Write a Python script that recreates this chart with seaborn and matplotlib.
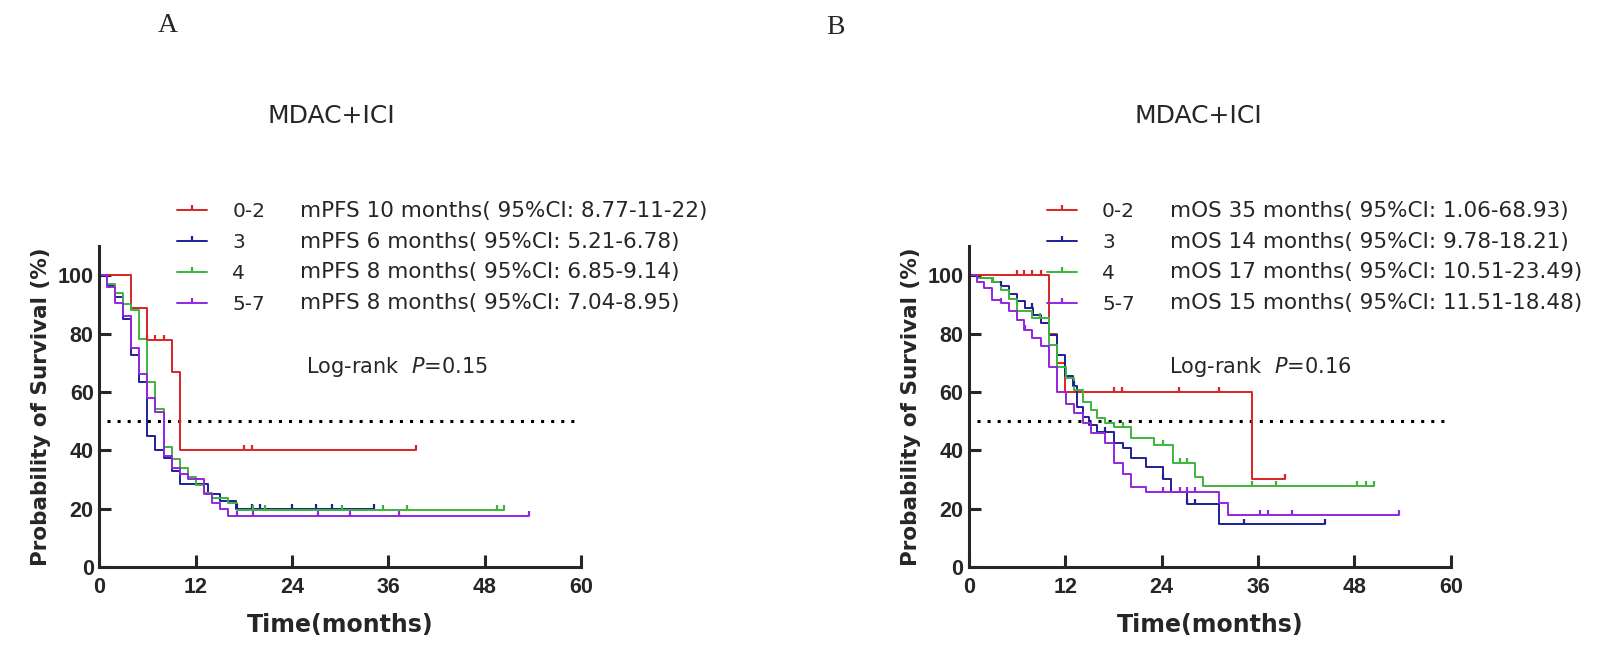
import numpy as np
import pandas as pd
import matplotlib
matplotlib.use('Agg')
import matplotlib.pyplot as plt
import seaborn as sns
from matplotlib.lines import Line2D
from matplotlib.path import Path

sns.set_style('ticks')
plt.rcParams['font.family'] = ['DejaVu Sans']

groups = ['0-2', '3', '4', '5-7']
colors = ['#D92424', '#1F1F96', '#3CB43C', '#9326DE']

# panel A: progression-free survival, step curves (time in months, survival in %)
pfs_t = {
    '0-2': [0, 4.0, 6.0, 9.0, 10.0, 39.4],
    '3': [0, 0.9, 2.0, 2.9, 4.0, 5.0, 6.0, 7.0, 8.0, 9.0, 10.0, 13.5, 15.0, 17.0, 34.2],
    '4': [0, 0.9, 2.0, 3.0, 4.0, 5.0, 6.0, 7.0, 8.0, 9.0, 10.0, 11.0, 12.0, 13.0, 14.0, 16.0, 17.1, 50.4],
    '5-7': [0, 0.9, 2.0, 3.0, 4.0, 5.0, 6.0, 7.0, 8.0, 9.0, 10.0, 11.0, 13.0, 14.0, 15.0, 16.0, 53.5],
}
pfs_s = {
    '0-2': [100, 88.9, 77.8, 66.7, 40, 40],
    '3': [100, 96.2, 92.5, 85, 72.5, 63.5, 45, 40, 37.5, 33, 28.5, 25, 22.5, 20, 20],
    '4': [100, 97, 94, 90, 88, 78, 63.5, 54, 41, 37, 34, 31, 28, 25.5, 23.5, 22, 19.6, 19.6],
    '5-7': [100, 96, 90.5, 86, 75, 66, 58, 53, 38, 34, 32, 30, 25, 22, 20, 17.6, 17.6],
}
pfs_cens = {
    '0-2': [6.0, 7.0, 8.0, 18.0, 19.0, 39.4],
    '3': [17.1, 19.0, 20.0, 24.0, 27.0, 29.0, 34.2],
    '4': [19.2, 20.6, 30.2, 35.3, 38.3, 49.5, 50.4],
    '5-7': [17.1, 19.1, 27.2, 31.2, 37.3, 53.5],
}
pfs_text = ['mPFS 10 months( 95%CI: 8.77-11-22)',
            'mPFS 6 months( 95%CI: 5.21-6.78)',
            'mPFS 8 months( 95%CI: 6.85-9.14)',
            'mPFS 8 months( 95%CI: 7.04-8.95)']
pfs_p = '0.15'

# panel B: overall survival
os_t = {
    '0-2': [0, 10.0, 11.0, 12.0, 35.2, 39.3],
    '3': [0, 1.0, 2.9, 4.0, 5.0, 6.0, 7.0, 8.0, 9.0, 10.0, 11.0, 12.0, 13.0, 13.5, 14.2, 15.0, 16.0,
          18.0, 19.2, 20.2, 22.0, 24.2, 25.1, 27.1, 31.2, 44.3],
    '4': [0, 1.0, 2.9, 4.0, 5.0, 6.0, 7.9, 10.0, 11.0, 12.1, 13.1, 14.2, 15.2, 16.0, 17.0, 18.1, 20.2,
          23.1, 25.4, 28.2, 29.2, 50.4],
    '5-7': [0, 1.0, 1.9, 2.9, 4.0, 5.0, 6.0, 6.9, 7.9, 9.0, 10.0, 11.0, 12.1, 13.1, 14.2, 15.2, 17.0,
            18.1, 19.2, 20.2, 22.0, 31.2, 32.2, 53.5],
}
os_s = {
    '0-2': [100, 80, 70, 60, 30, 30],
    '3': [100, 99, 97.7, 96.2, 93.4, 91, 88.8, 86.5, 83.6, 79.6, 72.7, 65.3, 62, 55, 51.5, 48.7, 46.4,
          42.4, 40.7, 37.2, 34.1, 30, 25.8, 21.5, 14.7, 14.7],
    '4': [100, 99, 97.5, 95, 92, 87.6, 85.3, 76.2, 68.7, 64.7, 60.7, 56.5, 53.8, 51, 49.5, 48.1, 44.1,
          41.8, 35.7, 30.9, 27.7, 27.7],
    '5-7': [100, 97.7, 95.5, 91.6, 90.5, 87.6, 84.8, 81.3, 78.5, 75.6, 68.7, 60, 56, 52.7, 49.5, 45.8, 42.4,
            35.5, 32, 27.5, 25.8, 22, 17.8, 17.8],
}
os_cens = {
    '0-2': [6.0, 6.9, 7.9, 9.0, 18.0, 19.0, 26.1, 31.2, 39.3],
    '3': [4.0, 7.9, 13.1, 17.0, 24.2, 27.1, 28.2, 34.3, 44.3],
    '4': [3.0, 8.9, 18.1, 19.2, 24.2, 26.3, 27.1, 35.2, 38.3, 48.3, 49.4, 50.4],
    '5-7': [4.0, 7.0, 24.2, 26.3, 27.1, 28.2, 36.2, 37.3, 40.2, 53.5],
}
os_text = ['mOS 35 months( 95%CI: 1.06-68.93)',
           'mOS 14 months( 95%CI: 9.78-18.21)',
           'mOS 17 months( 95%CI: 10.51-23.49)',
           'mOS 15 months( 95%CI: 11.51-18.48)']
os_p = '0.16'

median_line = [1, 60, 50]  # from, to, level

W, H = 1616, 650
tick_mark = Path([(0, 0), (0, 1)], [Path.MOVETO, Path.LINETO])
pal = dict(zip(groups, colors))
grp_fs = 14.5
desc_fs = 15.5
row_pitch = 23.6   # pt between legend rows
row1_y = 212       # px from top, centre of first legend row


def panel(ax, times, surv, cens, texts, pval, x_left, p_x):
    rows = []
    for g in groups:
        for t, s in zip(times[g], surv[g]):
            rows.append({'time': t, 'surv': s, 'group': g})
    df = pd.DataFrame(rows)
    sns.lineplot(data=df, x='time', y='surv', hue='group', palette=pal, estimator=None,
                 sort=False, drawstyle='steps-post', linewidth=1.4, legend=False, ax=ax)
    for g in groups:
        t = np.array(times[g])
        s = np.array(surv[g])
        c = np.array(cens[g])
        idx = np.searchsorted(t, c, side='right') - 1
        ax.plot(c, s[idx], linestyle='none', marker=tick_mark, markersize=7,
                markeredgewidth=1.6, color=pal[g], zorder=4)
    ax.hlines(median_line[2], median_line[0], median_line[1], colors='black',
              linestyles=(0, (1, 2.3)), linewidth=2.2, zorder=1)

    ax.set_xlim(0, 60)
    ax.set_ylim(0, 110)
    ax.set_xticks(np.arange(0, 61, 12))
    ax.set_yticks(np.arange(0, 101, 20))
    sns.despine(ax=ax)
    for sp in ['left', 'bottom']:
        ax.spines[sp].set_linewidth(2.2)
    ax.tick_params(axis='both', direction='in', length=8.5, width=2.2, labelsize=15.5)
    ax.tick_params(axis='x', pad=7)
    ax.tick_params(axis='y', pad=4)
    for lab in ax.get_xticklabels() + ax.get_yticklabels():
        lab.set_fontweight('bold')
        lab.set_family('Liberation Sans')
    ax.set_xlabel('Time(months)', fontsize=17, fontweight='bold', labelpad=11)
    ax.set_ylabel('Probability of Survival (%)', fontsize=15.5, fontweight='bold')
    ax.yaxis.set_label_coords(-0.1, 0.5)

    ax.text(p_x, 68.4, 'Log-rank  $P$=' + pval, fontsize=15, va='center', ha='left')

    # group legend (line with censor tick + group name)
    handles = [Line2D([0], [0], color=pal[g], lw=1.4, marker=tick_mark, markersize=7,
                      markeredgewidth=1.6) for g in groups]
    px = grp_fs * 100 / 72
    h_row = 1.03 * grp_fs
    top = 1 - (row1_y - h_row / 2 * 100 / 72) / H
    fig.legend(handles, groups, loc='upper left', bbox_to_anchor=((x_left + 78) / W, top),
               frameon=False, fontsize=grp_fs, handlelength=30 / px, handletextpad=25 / px,
               borderpad=0, borderaxespad=0, labelspacing=(row_pitch - h_row) / grp_fs)
    # median / CI text column
    blank = [Line2D([0], [0], linestyle='none') for g in groups]
    h_row = 1.03 * desc_fs
    top = 1 - (row1_y - h_row / 2 * 100 / 72) / H
    fig.legend(blank, texts, loc='upper left', bbox_to_anchor=((x_left + 201) / W, top),
               frameon=False, fontsize=desc_fs, handlelength=0, handletextpad=0,
               borderpad=0, borderaxespad=0, labelspacing=(row_pitch - h_row) / desc_fs)


fig = plt.figure(figsize=(W / 100, H / 100), dpi=100)
ax_w = 481.7 / W
ax_b = 83 / H
ax_h = 321 / H
axA = fig.add_axes([99.3 / W, ax_b, ax_w, ax_h])
axB = fig.add_axes([969 / W, ax_b, ax_w, ax_h])

panel(axA, pfs_t, pfs_s, pfs_cens, pfs_text, pfs_p, 99.3, 25.8)
panel(axB, os_t, os_s, os_cens, os_text, os_p, 969, 24.9)

fig.text(167.5 / W, 1 - 26 / H, 'A', family='Liberation Serif', fontsize=20, ha='center', va='center')
fig.text(835.5 / W, 1 - 27 / H, 'B', family='Liberation Serif', fontsize=20, ha='center', va='center')
fig.text(331.5 / W, 1 - 116 / H, 'MDAC+ICI', fontsize=18, ha='center', va='center')
fig.text(1198.5 / W, 1 - 116 / H, 'MDAC+ICI', fontsize=18, ha='center', va='center')

fig.savefig('out.png', dpi=100, facecolor='white')
